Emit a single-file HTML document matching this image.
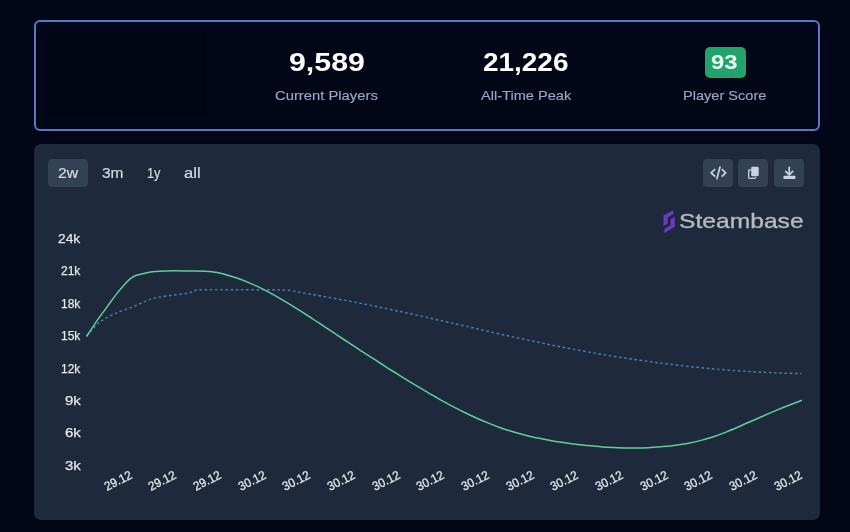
<!DOCTYPE html>
<html><head><meta charset="utf-8">
<style>
html,body{margin:0;padding:0;background:#020617;}
#w{position:absolute;left:0;top:0;width:850px;height:532px;filter:blur(0.4px);}
body{width:850px;height:532px;background:#020617;overflow:hidden;position:relative;font-family:"Liberation Sans",sans-serif;}
.abs{position:absolute;}
#top{left:34px;top:20.3px;width:782px;height:106.8px;border:2px solid #527bcb;border-radius:6px;background:#020617;}
#dark{left:48px;top:32px;width:158px;height:83px;background:#010413;border-radius:3px;}
.t{position:absolute;white-space:nowrap;line-height:1;transform-origin:0 0;}
.big{font-weight:bold;color:#fff;font-size:25px;}
.lab{color:#97a8c4;font-size:13.5px;-webkit-text-stroke:0.15px #97a8c4;}
#badge{left:705px;top:46.5px;width:40.5px;height:31.5px;border-radius:5px;background:#21a36c;}
#panel{left:34px;top:144.2px;width:785.6px;height:375.4px;border-radius:7px;background:#1e293b;}
#b2w{left:48px;top:159.3px;width:40.4px;height:27.4px;border-radius:4px;background:#334155;}
.ib{position:absolute;top:159.3px;width:30.3px;height:27.4px;border-radius:4px;background:#334155;}
.rng{color:#d3dae4;font-size:14px;-webkit-text-stroke:0.2px #d3dae4;}
.yl{color:#e2e8f0;font-size:13.5px;-webkit-text-stroke:0.25px #e2e8f0;}
.xl{color:#e2e8f0;font-size:12.5px;-webkit-text-stroke:0.25px #e2e8f0;}
</style></head><body>
<div id="w">
<div id="top" class="abs"></div>
<div id="dark" class="abs"></div>
<div id="panel" class="abs"></div>
<div id="b2w" class="abs"></div>
<div class="ib" style="left:703px"></div>
<div class="ib" style="left:738.2px"></div>
<div class="ib" style="left:773.9px"></div>
<div id="badge" class="abs"></div>
<!--TEXT-->
<div class="t big" style="left:288.89px;top:50.1px;transform:scaleX(1.213);">9,589</div>
<div class="t big" style="left:483.28px;top:50.1px;transform:scaleX(1.117);">21,226</div>
<div class="t lab" style="left:275.40px;top:89px;transform:scaleX(1.096);">Current Players</div>
<div class="t lab" style="left:481.10px;top:89px;transform:scaleX(1.080);">All-Time Peak</div>
<div class="t lab" style="left:682.82px;top:89px;transform:scaleX(1.079);">Player Score</div>
<div class="t " style="left:711.41px;top:52.3px;transform:scaleX(1.194);font-size:20px;font-weight:bold;color:#e9fff3;">93</div>
<div class="t rng" style="left:57.88px;top:166px;transform:scaleX(1.124);">2w</div>
<div class="t rng" style="left:101.99px;top:166px;transform:scaleX(1.106);">3m</div>
<div class="t rng" style="left:146.69px;top:166px;transform:scaleX(0.907);">1y</div>
<div class="t rng" style="left:183.92px;top:166px;transform:scaleX(1.183);">all</div>
<div class="t " style="left:678.53px;top:210.3px;transform:scaleX(1.173);font-size:21px;color:#b4bac6;-webkit-text-stroke:0.35px #b4bac6;">Steambase</div>
<div class="t yl" style="left:57.68px;top:232.07px;transform:scaleX(1.019);">24k</div>
<div class="t yl" style="left:60.62px;top:264.43px;transform:scaleX(0.885);">21k</div>
<div class="t yl" style="left:60.62px;top:296.79px;transform:scaleX(0.885);">18k</div>
<div class="t yl" style="left:60.62px;top:329.15px;transform:scaleX(0.885);">15k</div>
<div class="t yl" style="left:60.62px;top:361.51px;transform:scaleX(0.885);">12k</div>
<div class="t yl" style="left:64.89px;top:393.87px;transform:scaleX(1.112);">9k</div>
<div class="t yl" style="left:64.89px;top:426.23px;transform:scaleX(1.112);">6k</div>
<div class="t yl" style="left:64.89px;top:458.59px;transform:scaleX(1.112);">3k</div>
<div class="t xl" style="left:102.80px;top:474.60px;width:30px;text-align:center;transform-origin:50% 54%;transform:rotate(-27deg) scaleX(0.93);">29.12</div>
<div class="t xl" style="left:147.46px;top:474.60px;width:30px;text-align:center;transform-origin:50% 54%;transform:rotate(-27deg) scaleX(0.93);">29.12</div>
<div class="t xl" style="left:192.12px;top:474.60px;width:30px;text-align:center;transform-origin:50% 54%;transform:rotate(-27deg) scaleX(0.93);">29.12</div>
<div class="t xl" style="left:236.78px;top:474.60px;width:30px;text-align:center;transform-origin:50% 54%;transform:rotate(-27deg) scaleX(0.93);">30.12</div>
<div class="t xl" style="left:281.44px;top:474.60px;width:30px;text-align:center;transform-origin:50% 54%;transform:rotate(-27deg) scaleX(0.93);">30.12</div>
<div class="t xl" style="left:326.10px;top:474.60px;width:30px;text-align:center;transform-origin:50% 54%;transform:rotate(-27deg) scaleX(0.93);">30.12</div>
<div class="t xl" style="left:370.76px;top:474.60px;width:30px;text-align:center;transform-origin:50% 54%;transform:rotate(-27deg) scaleX(0.93);">30.12</div>
<div class="t xl" style="left:415.42px;top:474.60px;width:30px;text-align:center;transform-origin:50% 54%;transform:rotate(-27deg) scaleX(0.93);">30.12</div>
<div class="t xl" style="left:460.08px;top:474.60px;width:30px;text-align:center;transform-origin:50% 54%;transform:rotate(-27deg) scaleX(0.93);">30.12</div>
<div class="t xl" style="left:504.74px;top:474.60px;width:30px;text-align:center;transform-origin:50% 54%;transform:rotate(-27deg) scaleX(0.93);">30.12</div>
<div class="t xl" style="left:549.40px;top:474.60px;width:30px;text-align:center;transform-origin:50% 54%;transform:rotate(-27deg) scaleX(0.93);">30.12</div>
<div class="t xl" style="left:594.06px;top:474.60px;width:30px;text-align:center;transform-origin:50% 54%;transform:rotate(-27deg) scaleX(0.93);">30.12</div>
<div class="t xl" style="left:638.72px;top:474.60px;width:30px;text-align:center;transform-origin:50% 54%;transform:rotate(-27deg) scaleX(0.93);">30.12</div>
<div class="t xl" style="left:683.38px;top:474.60px;width:30px;text-align:center;transform-origin:50% 54%;transform:rotate(-27deg) scaleX(0.93);">30.12</div>
<div class="t xl" style="left:728.04px;top:474.60px;width:30px;text-align:center;transform-origin:50% 54%;transform:rotate(-27deg) scaleX(0.93);">30.12</div>
<div class="t xl" style="left:772.70px;top:474.60px;width:30px;text-align:center;transform-origin:50% 54%;transform:rotate(-27deg) scaleX(0.93);">30.12</div>
<!--/TEXT-->
<!--SVG-->
<svg class="abs" style="left:0;top:0" width="850" height="532" viewBox="0 0 850 532" fill="none">
<path d="M86.8,336.0 C88.5,334.1 94.0,327.4 96.9,324.6 C99.9,321.8 101.0,321.0 104.5,319.0 C108.0,317.0 112.9,314.4 117.6,312.4 C122.3,310.4 128.0,308.7 132.7,306.8 C137.4,304.9 142.1,302.6 145.9,301.1 C149.7,299.6 151.2,298.8 155.3,297.9 C159.4,297.0 165.4,296.2 170.4,295.5 C175.4,294.8 181.7,294.2 185.4,293.6 C189.2,293.0 190.4,292.3 192.9,291.7 C195.4,291.1 192.7,290.1 200.5,289.8 C208.3,289.5 226.0,289.7 240.0,289.7 C254.0,289.7 274.8,289.6 284.7,290.1 C294.6,290.5 294.5,291.6 299.5,292.4 C304.4,293.2 309.3,294.0 314.2,294.8 C319.1,295.6 324.1,296.5 329.0,297.4 C333.9,298.3 338.8,299.2 343.8,300.1 C348.7,301.0 353.6,302.0 358.5,303.0 C363.4,303.9 368.4,304.9 373.3,305.9 C378.2,306.9 383.1,307.9 388.0,309.0 C393.0,310.0 397.9,311.1 402.8,312.1 C407.7,313.2 412.6,314.3 417.6,315.4 C422.5,316.4 427.4,317.5 432.3,318.7 C437.2,319.8 442.2,320.9 447.1,322.0 C452.0,323.1 456.9,324.2 461.9,325.4 C466.8,326.5 471.7,327.6 476.6,328.7 C481.5,329.8 486.5,331.0 491.4,332.1 C496.3,333.2 501.2,334.3 506.1,335.4 C511.1,336.5 516.0,337.5 520.9,338.6 C525.8,339.7 530.7,340.7 535.7,341.7 C540.6,342.8 545.5,343.8 550.4,344.8 C555.4,345.8 560.3,346.7 565.2,347.7 C570.1,348.6 575.0,349.6 580.0,350.5 C584.9,351.4 589.8,352.2 594.7,353.1 C599.6,354.0 604.6,354.8 609.5,355.6 C614.4,356.4 619.3,357.2 624.2,357.9 C629.2,358.7 634.1,359.4 639.0,360.1 C643.9,360.8 648.9,361.5 653.8,362.2 C658.7,362.8 663.6,363.5 668.5,364.1 C673.5,364.7 678.4,365.3 683.3,365.8 C688.2,366.4 693.1,366.9 698.1,367.4 C703.0,367.9 707.9,368.3 712.8,368.8 C717.7,369.2 722.7,369.6 727.6,370.0 C732.5,370.4 737.4,370.8 742.3,371.1 C747.3,371.4 752.2,371.7 757.1,372.0 C762.0,372.2 767.0,372.5 771.9,372.7 C776.8,372.9 781.7,373.1 786.6,373.2 C791.6,373.3 798.9,373.5 801.4,373.5" stroke="#4682b0" stroke-width="1.45" stroke-dasharray="2.6 2.6"/>
<path d="M86.8,336.0 C88.8,333.0 95.2,323.2 98.8,318.1 C102.4,313.0 105.1,309.6 108.2,305.4 C111.3,301.1 114.4,296.6 117.6,292.6 C120.8,288.7 124.7,284.2 127.1,281.7 C129.5,279.2 130.2,278.7 131.8,277.6 C133.4,276.5 134.2,276.1 136.5,275.3 C138.8,274.5 142.8,273.5 145.9,272.9 C149.0,272.3 152.2,271.9 155.3,271.6 C158.4,271.3 161.6,271.1 164.7,271.0 C167.8,270.9 169.4,270.8 174.1,270.8 C178.8,270.8 186.6,270.9 192.9,271.0 C199.2,271.1 206.6,271.1 211.8,271.7 C217.0,272.2 220.2,273.1 224.3,274.2 C228.5,275.3 232.7,276.5 236.9,278.0 C241.1,279.4 245.3,281.1 249.4,282.9 C253.6,284.7 257.8,286.6 262.0,288.7 C266.2,290.8 270.3,293.1 274.5,295.4 C278.7,297.7 282.9,300.2 287.1,302.7 C291.2,305.2 295.4,307.8 299.6,310.4 C303.8,313.1 308.0,315.8 312.2,318.5 C316.3,321.3 320.5,324.0 324.7,326.8 C328.9,329.6 333.1,332.3 337.2,335.1 C341.4,337.9 345.6,340.6 349.8,343.4 C354.0,346.1 358.2,348.9 362.3,351.6 C366.5,354.3 370.7,357.0 374.9,359.7 C379.1,362.4 383.2,365.1 387.4,367.8 C391.6,370.4 395.8,373.1 400.0,375.7 C404.2,378.3 408.3,380.8 412.5,383.4 C416.7,385.9 420.9,388.4 425.1,390.9 C429.2,393.3 433.4,395.8 437.6,398.1 C441.8,400.5 446.0,402.8 450.1,405.1 C454.3,407.3 458.5,409.5 462.7,411.5 C466.9,413.6 471.1,415.6 475.2,417.5 C479.4,419.4 483.6,421.2 487.8,422.9 C492.0,424.6 496.1,426.2 500.3,427.7 C504.5,429.1 508.7,430.5 512.9,431.7 C517.1,433.0 521.2,434.1 525.4,435.2 C529.6,436.2 533.8,437.2 538.0,438.1 C542.1,439.0 546.3,439.8 550.5,440.5 C554.7,441.3 558.9,441.9 563.1,442.5 C567.2,443.2 571.4,443.7 575.6,444.2 C579.8,444.7 584.0,445.2 588.1,445.6 C592.3,446.1 596.5,446.4 600.7,446.7 C604.9,447.1 609.0,447.3 613.2,447.5 C617.4,447.7 621.6,447.9 625.8,447.9 C630.0,448.0 634.1,448.0 638.3,448.0 C642.5,447.9 646.7,447.8 650.9,447.5 C655.0,447.3 659.2,447.0 663.4,446.6 C667.6,446.2 671.8,445.8 676.0,445.2 C680.1,444.6 684.3,444.0 688.5,443.2 C692.7,442.4 696.9,441.5 701.0,440.4 C705.2,439.3 709.4,438.1 713.6,436.7 C717.8,435.3 722.0,433.7 726.1,432.1 C730.3,430.4 734.5,428.6 738.7,426.8 C742.9,425.0 747.0,423.1 751.2,421.2 C755.4,419.4 759.6,417.5 763.8,415.7 C767.9,413.9 772.1,412.1 776.3,410.4 C780.5,408.6 784.7,406.9 788.9,405.3 C793.0,403.7 799.3,401.3 801.4,400.5" stroke="#5fd097" stroke-width="1.5" stroke-linejoin="round" stroke-linecap="round"/>
<g stroke="#cbd5e1" stroke-width="1.7" stroke-linecap="round" stroke-linejoin="round" fill="none">
<path d="M714.7,169.5 L711.2,172.8 L714.7,176.1"/>
<path d="M720,167 L716.9,178.6"/>
<path d="M722.2,169.5 L725.7,172.8 L722.2,176.1"/>
<path d="M789.2,167.4 L789.2,174.3"/>
<path d="M785.7,171.4 L789.2,174.9 L792.7,171.4"/>
</g>
<rect x="751.2" y="166.8" width="7.5" height="9.4" rx="1.2" fill="#cbd5e1"/>
<path d="M750.6,170 L749.4,170 Q748.7,170 748.7,170.7 L748.7,177.6 Q748.7,178.3 749.4,178.3 L754.8,178.3 Q755.5,178.3 755.5,177.6 L755.5,177.3" stroke="#cbd5e1" stroke-width="1.3" fill="none" stroke-linecap="round"/>
<rect x="783.4" y="175.7" width="12.1" height="3.3" rx="1" fill="#cbd5e1"/>
<polygon points="673.4,209.9 663.5,215.5 663.5,225.9 667.7,223.5 667.7,217.4 673.4,214.1" fill="#663dc0"/>
<polygon points="674.8,216.9 674.8,226.8 664.4,232.9 664.4,228.7 670.5,225.2 670.5,219.3" fill="#663dc0"/>
</svg>
<!--/SVG-->
</div>
</body></html>
